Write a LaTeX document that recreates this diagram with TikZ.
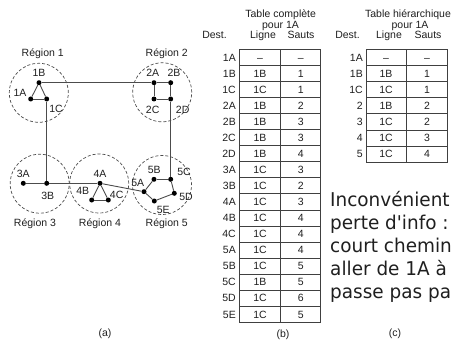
\documentclass[tikz,border=0pt]{standalone}
\usepackage{fontspec}
\setmainfont{Liberation Sans}
\newfontfamily\bigfont[FakeStretch=0.97]{DejaVu Sans}
\definecolor{linec}{gray}{0.3}
\definecolor{tabc}{gray}{0.25}
\definecolor{txtc}{gray}{0.12}
\begin{document}
\begin{tikzpicture}[x=1pt,y=-1pt,
  dot/.style={circle,fill=black,inner sep=0pt,minimum size=5pt},
  lbl/.style={font=\fontsize{10.5}{12}\selectfont,inner sep=0pt,text height=7.5pt,text depth=0pt,text=txtc},
  region/.style={circle,draw=linec,dash pattern=on 3pt off 2pt,line width=0.7pt,minimum size=59pt,inner sep=0pt},
  edge/.style={draw=linec,line width=0.9pt},
  grid/.style={draw=tabc,line width=0.8pt},
  big/.style={font=\bigfont\fontsize{19}{23}\selectfont,inner sep=0pt,anchor=base west,text=txtc}]
\useasboundingbox (0,0) rectangle (452,342);
\clip (0,0) rectangle (452,342);
% regions
\node[region] (r1) at (38.8,92.8) {};
\node[region] (r2) at (162.2,92.3) {};
\node[region] (r3) at (39.7,183.7) {};
\node[region] (r4) at (99.2,183.5) {};
\node[region] (r5) at (162,185) {};
\node[lbl] (tr1) at (42.7,52.7) {Région 1};
\node[lbl] (tr2) at (166.7,52.7) {Région 2};
\node[lbl] (tr3) at (35,222.7) {Région 3};
\node[lbl] (tr4) at (100,222.7) {Région 4};
\node[lbl] (tr5) at (166.7,222.7) {Région 5};
% routers
\node[dot] (n1A) at (30.7,99) {};
\node[dot] (n1B) at (39,82.7) {};
\node[dot] (n1C) at (46.7,99) {};
\node[dot] (n2A) at (154,82.7) {};
\node[dot] (n2B) at (170.7,82.7) {};
\node[dot] (n2C) at (154,99) {};
\node[dot] (n2D) at (170.7,99) {};
\node[dot] (n3A) at (23.3,183.3) {};
\node[dot] (n3B) at (46.7,183.3) {};
\node[dot] (n4A) at (100,183.3) {};
\node[dot] (n4B) at (91.7,200) {};
\node[dot] (n4C) at (108.3,200) {};
\node[dot] (n5A) at (144,191.7) {};
\node[dot] (n5B) at (154,179.3) {};
\node[dot] (n5C) at (170.7,179.3) {};
\node[dot] (n5D) at (174.3,193.3) {};
\node[dot] (n5E) at (154.3,201) {};
% labels
\node[lbl] (l1A) at (20,92.7) {1A};
\node[lbl] (l1B) at (39,72.3) {1B};
\node[lbl] (l1C) at (56,108.3) {1C};
\node[lbl] (l2A) at (152.7,72.7) {2A};
\node[lbl] (l2B) at (174,72.7) {2B};
\node[lbl] (l2C) at (152.7,110) {2C};
\node[lbl] (l2D) at (182.7,109.3) {2D};
\node[lbl] (l3A) at (23.3,173.3) {3A};
\node[lbl] (l3B) at (47.7,196) {3B};
\node[lbl] (l4A) at (100,173.3) {4A};
\node[lbl] (l4B) at (82.7,190.7) {4B};
\node[lbl] (l4C) at (116.7,194.3) {4C};
\node[lbl] (l5A) at (137.7,182.7) {5A};
\node[lbl] (l5B) at (154.3,169.3) {5B};
\node[lbl] (l5C) at (184,171.7) {5C};
\node[lbl] (l5D) at (186,196.7) {5D};
\node[lbl] (l5E) at (163.3,210) {5E};
% links
\draw[edge] (n1A) -- (n1B);
\draw[edge] (n1B) -- (n1C);
\draw[edge] (n1A) -- (n1C);
\draw[edge] (n1B) -- (n2A);
\draw[edge] (n2A) -- (n2B);
\draw[edge] (n2A) -- (n2C);
\draw[edge] (n2C) -- (n2D);
\draw[edge] (n2B) -- (n2D);
\draw[edge] (n1C) -- (n3B);
\draw[edge] (n2D) -- (n5C);
\draw[edge] (n3A) -- (n3B);
\draw[edge] (n3B) -- (n4A);
\draw[edge] (n4A) -- (n4B);
\draw[edge] (n4A) -- (n4C);
\draw[edge] (n4B) -- (n4C);
\draw[edge] (n4A) -- (n5A);
\draw[edge] (n5A) -- (n5B);
\draw[edge] (n5B) -- (n5C);
\draw[edge] (n5C) -- (n5D);
\draw[edge] (n5D) -- (n5E);
\draw[edge] (n5E) -- (n5A);
% table (b)
\node[lbl] (bt1) at (280.7,13.3) {Table complète};
\node[lbl] (bt2) at (280.5,24.3) {pour 1A};
\node[lbl,anchor=east] (bhd) at (227,35) {Dest.};
\node[lbl] (bhl) at (263,35) {Ligne};
\node[lbl] (bhs) at (301,35) {Sauts};
\foreach [count=\i] \d/\l/\s in {1A/--/--,1B/1B/1,1C/1C/1,2A/1B/2,2B/1B/3,2C/1B/3,2D/1B/4,3A/1C/3,3B/1C/2,4A/1C/3,4B/1C/4,4C/1C/4,5A/1C/4,5B/1C/5,5C/1B/5,5D/1C/6,5E/1C/5}{
  \pgfmathsetmacro{\yc}{49.3+16.06*(\i-0.5)}
  \node[lbl,anchor=east] (bd\i) at (236,\yc) {\d};
  \node[lbl] (bl\i) at (260,\yc) {\l};
  \node[lbl] (bs\i) at (300.7,\yc) {\s};
  \draw[grid] (239.3,{49.3+16.06*\i}) -- (320.7,{49.3+16.06*\i});
}
\draw[grid] (239.3,49.3) rectangle (320.7,322.3);
\draw[grid] (280.7,49.3) -- (280.7,322.3);
% table (c)
\node[lbl] (ct1) at (408,13.3) {Table hiérarchique};
\node[lbl] (ct2) at (410,24.3) {pour 1A};
\node[lbl,anchor=east] (chd) at (360,35) {Dest.};
\node[lbl] (chl) at (389,35) {Ligne};
\node[lbl] (chs) at (428,35) {Sauts};
\foreach [count=\i] \d/\l/\s in {1A/--/--,1B/1B/1,1C/1C/1,2/1B/2,3/1C/2,4/1C/3,5/1C/4}{
  \pgfmathsetmacro{\yc}{49.6+16.06*(\i-0.5)}
  \node[lbl,anchor=east] (cd\i) at (363,\yc) {\d};
  \node[lbl] (cl\i) at (386,\yc) {\l};
  \node[lbl] (cs\i) at (427,\yc) {\s};
  \draw[grid] (366,{49.6+16.06*\i}) -- (447.3,{49.6+16.06*\i});
}
\draw[grid] (366,49.6) rectangle (447.3,162);
\draw[grid] (406.5,49.6) -- (406.5,162);
% text
\node[big] (x1) at (330,206.7) {Inconvénient};
\node[big] (x2) at (330,229.7) {perte d'info :};
\node[big] (x3) at (330,252.7) {court chemin};
\node[big] (x4) at (330,275.7) {aller de 1A à};
\node[big] (x5) at (330,298.7) {passe pas pa};
% captions
\node[lbl] (ca) at (105,333) {(a)};
\node[lbl] (cb) at (283,334) {(b)};
\node[lbl] (cc) at (395,333) {(c)};
\end{tikzpicture}
\end{document}
